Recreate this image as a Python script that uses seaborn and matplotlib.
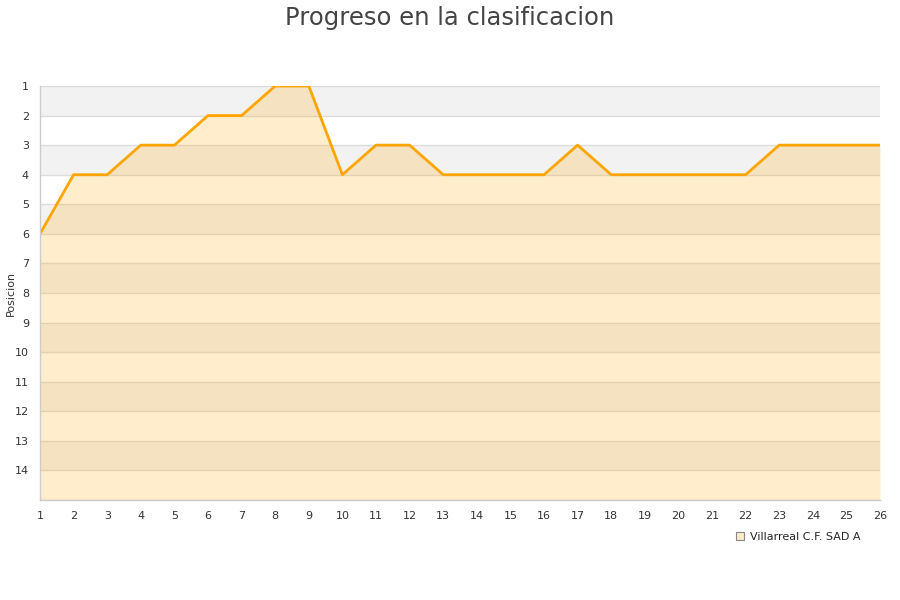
import matplotlib
matplotlib.use("Agg")
import matplotlib.pyplot as plt
from matplotlib.lines import Line2D
import pandas as pd
import seaborn as sns

jornadas = list(range(1, 27))
posiciones = [6, 4, 4, 3, 3, 2, 2, 1, 1, 4, 3, 3, 4, 4, 4, 4, 3, 4, 4, 4, 4, 4, 3, 3, 3, 3]
equipo = "Villarreal C.F. SAD A"
y_ticks = list(range(1, 15))

df = pd.DataFrame({"jornada": jornadas, "posicion": posiciones})

sns.set_style("white")
plt.rcParams['font.family'] = ['DejaVu Sans']

fig = plt.figure(figsize=(9, 6), dpi=100)
ax = fig.add_axes([40 / 900, 1 - 500 / 600, 840 / 900, 414 / 600])

# alternating bands behind everything
for k in range(1, 15, 2):
    ax.axhspan(k, k + 1, color="#f2f2f2", lw=0, zorder=0)
for k in range(1, 16):
    ax.axhline(k, color="#dddddd", lw=1, zorder=0.5)

ax.fill_between(df["jornada"], df["posicion"], 15, color="orange", alpha=0.2, lw=0, zorder=1)
sns.lineplot(data=df, x="jornada", y="posicion", color="orange", lw=2, ax=ax, zorder=2)

ax.set_xlim(1, 26)
ax.set_ylim(15, 1)
ax.set_xticks(jornadas)
ax.set_yticks(y_ticks)
ax.tick_params(length=0, labelsize=8, colors="#333333", pad=8)
ax.set_xlabel("")
ax.set_ylabel("Posicion", fontsize=8, color="#333333")
ax.yaxis.set_label_coords(-24 / 840, 0.5)

for s in ["top", "right"]:
    ax.spines[s].set_visible(False)
for s in ["left", "bottom"]:
    ax.spines[s].set_color("#cccccc")
    ax.spines[s].set_linewidth(1)

fig.suptitle("Progreso en la clasificacion", y=0.99, fontsize=17.5, color="#444444")

handle = Line2D([], [], marker="s", ls="", markersize=6, markerfacecolor="#feecc9",
                markeredgecolor="#888888", markeredgewidth=0.8)
fig.legend([handle], [equipo], loc="center left", bbox_to_anchor=(0.805, 0.105),
           frameon=False, fontsize=8, handletextpad=0.4, handlelength=1)

fig.savefig("out.png", dpi=100)
